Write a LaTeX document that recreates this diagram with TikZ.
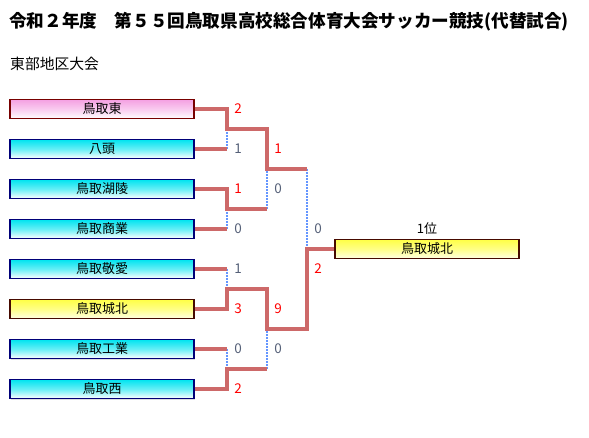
\documentclass[tikz,border=0pt]{standalone}
\usepackage{fontspec}
\setmainfont{Noto Sans CJK JP}
\usetikzlibrary{shadows}
\definecolor{linered}{RGB}{205,105,105}
\definecolor{dotblue}{RGB}{100,150,255}
\definecolor{winred}{RGB}{255,0,0}
\definecolor{losegray}{RGB}{85,96,120}
\definecolor{pinktop}{RGB}{244,160,226}
\definecolor{cyantop}{RGB}{0,228,240}
\definecolor{yellowtop}{RGB}{255,255,70}
\definecolor{pinkbd}{RGB}{120,0,0}
\definecolor{cyanbd}{RGB}{0,0,120}
\definecolor{yellowbd}{RGB}{70,10,0}
\tikzset{
  team/.style={draw, line width=1.2pt, minimum width=184pt, minimum height=19pt, inner sep=0pt,
    font=\fontsize{13}{15}\selectfont, text=black, anchor=center,
    drop shadow={shadow xshift=1pt, shadow yshift=-1pt, opacity=0.25}},
  pinkbox/.style={team, draw=pinkbd, top color=pinktop, bottom color=white, middle color=pinktop!55!white},
  cyanbox/.style={team, draw=cyanbd, top color=cyantop, bottom color=white, middle color=cyantop!60!white},
  yellowbox/.style={team, draw=yellowbd, top color=yellowtop, bottom color=yellowtop!15!white, middle color=yellowtop!65!white},
  win/.style={draw=linered, line width=3.2pt, line join=miter},
  dots/.style={draw=dotblue, line width=2.6pt, dash pattern=on 1.6pt off 1.4pt},
  wsc/.style={text=winred, font=\fontsize{13.5}{15}\selectfont, inner sep=0pt},
  lsc/.style={text=losegray, font=\fontsize{13.5}{15}\selectfont, inner sep=0pt},
}
\begin{document}
\begin{tikzpicture}[x=1pt,y=-1pt]
\useasboundingbox (0,0) rectangle (589,438);
\node[anchor=west, inner sep=0pt, font=\fontsize{17.6}{20}\selectfont\bfseries] (title) at (9,22) {令和２年度　第５５回鳥取県高校総合体育大会サッカー競技(代替試合)};
\node[anchor=west, inner sep=0pt, font=\fontsize{14.8}{17}\selectfont] (sub) at (10,64) {東部地区大会};

\node[pinkbox] (t1) at (102,109) {鳥取東};
\node[cyanbox] (t2) at (102,149) {八頭};
\node[cyanbox] (t3) at (102,189) {鳥取湖陵};
\node[cyanbox] (t4) at (102,229) {鳥取商業};
\node[cyanbox] (t5) at (102,269) {鳥取敬愛};
\node[yellowbox] (t6) at (102,309) {鳥取城北};
\node[cyanbox] (t7) at (102,349) {鳥取工業};
\node[cyanbox] (t8) at (102,389) {鳥取西};
\node[yellowbox, minimum width=184pt] (f) at (427,249) {鳥取城北};
\node[inner sep=0pt, font=\fontsize{13}{15}\selectfont] (rank) at (427,229) {1位};

\coordinate (m1) at (227,129);
\coordinate (m2) at (227,209);
\coordinate (m3) at (227,289);
\coordinate (m4) at (227,369);
\coordinate (q1) at (267,169);
\coordinate (q2) at (267,329);
\coordinate (F) at (307,249);

% dotted losers' verticals
\draw[dots] (t2.east -| m1) -- (m1);
\draw[dots] (t4.east -| m2) -- (m2);
\draw[dots] (t5.east -| m3) -- (m3);
\draw[dots] (t7.east -| m4) -- (m4);
\draw[dots] (m2 -| q1) -- (q1);
\draw[dots] (m4 -| q2) -- (q2);
\draw[dots] (q1 -| F) -- (F);

% solid paths
\draw[win] (t1.east) -| (m1) -| (q1) -- (q1 -| F);
\draw[win] (t2.east) -- (t2.east -| m1);
\draw[win] (t3.east) -| (m2) -- (m2 -| q1);
\draw[win] (t4.east) -- (t4.east -| m2);
\draw[win] (t5.east) -- (t5.east -| m3);
\draw[win] (t6.east) -| (m3) -| (q2) -| (F) -- (f.west);
\draw[win] (t7.east) -- (t7.east -| m4);
\draw[win] (t8.east) -| (m4) -- (m4 -| q2);

% scores
\node[wsc] (s1) at (238,109) {2};
\node[lsc] (s2) at (238,149) {1};
\node[wsc] (s3) at (238,189) {1};
\node[lsc] (s4) at (238,229) {0};
\node[lsc] (s5) at (238,269) {1};
\node[wsc] (s6) at (238,309) {3};
\node[lsc] (s7) at (238,349) {0};
\node[wsc] (s8) at (238,389) {2};
\node[wsc] (r1) at (278,149) {1};
\node[lsc] (r2) at (278,189) {0};
\node[wsc] (r3) at (278,309) {9};
\node[lsc] (r4) at (278,349) {0};
\node[lsc] (u1) at (318,229) {0};
\node[wsc] (u2) at (318,269) {2};
\end{tikzpicture}
\end{document}
